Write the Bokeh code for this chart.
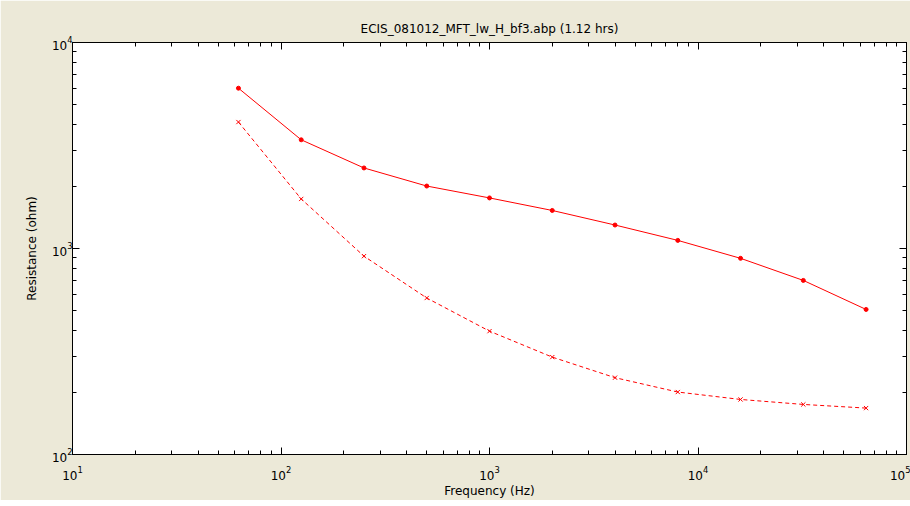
from bokeh.plotting import figure
from bokeh.models import LogAxis, FixedTicker, Range1d, CustomJSTickFormatter
from bokeh.embed import file_html
from bokeh.resources import INLINE

# ---- data ----
freq = [62.5, 125, 250, 500, 1000, 2000, 4000, 8000, 16000, 32000, 64000]
res_solid = [6000, 3370, 2460, 2010, 1760, 1530, 1300, 1095, 896, 700, 506]
res_dashed = [4110, 1740, 918, 575, 397, 297, 236, 201, 185, 175, 168]

title_text = "ECIS_081012_MFT_lw_H_bf3.abp (1.12 hrs)"
x_label = "Frequency (Hz)"
y_label = "Resistance (ohm)"

x_major = [10, 100, 1000, 10000, 100000]
y_major = [100, 1000, 10000]


def minors(major):
    return [m * d for d in major[:-1] for m in range(2, 10)]


FONT = "DejaVu Sans"
BG = "#ECE9D8"

p = figure(width=910, height=500, x_axis_type="log", y_axis_type="log",
           x_range=Range1d(x_major[0], x_major[-1]),
           y_range=Range1d(y_major[0], y_major[-1]),
           output_backend="svg", toolbar_location=None, title=title_text,
           min_border_left=72, min_border_right=4, min_border_top=42,
           min_border_bottom=44)
p.background_fill_color = "white"
p.border_fill_color = BG
p.outline_line_color = "black"
p.grid.visible = False

p.title.text_font = FONT
p.title.text_font_size = "12px"
p.title.text_font_style = "normal"
p.title.text_color = "black"
p.title.align = "center"
p.title.standoff = 14


def style_axis(ax, major, show_labels):
    ax.ticker = FixedTicker(ticks=major, minor_ticks=minors(major))
    ax.major_tick_in = 7
    ax.major_tick_out = 0
    ax.minor_tick_in = 4
    ax.minor_tick_out = 0
    ax.axis_line_color = "black"
    ax.major_tick_line_color = "black"
    ax.minor_tick_line_color = "black"
    ax.major_label_text_font = FONT
    ax.major_label_text_color = "black"
    if show_labels:
        ax.major_label_text_font_size = "12px"
    else:
        ax.major_label_text_font_size = "0px"
        ax.major_label_standoff = 0
        ax.formatter = CustomJSTickFormatter(code="return ''")


xb = p.below[0]
yl = p.left[0]
style_axis(xb, x_major, True)
style_axis(yl, y_major, True)
xb.major_label_standoff = 11
yl.major_label_standoff = 0
xb.axis_label = x_label
yl.axis_label = y_label
for ax in (xb, yl):
    ax.axis_label_text_font = FONT
    ax.axis_label_text_font_size = "12px"
    ax.axis_label_text_font_style = "normal"
    ax.axis_label_text_color = "black"
xb.axis_label_standoff = 1
yl.axis_label_standoff = 10

xt = LogAxis()
style_axis(xt, x_major, False)
p.add_layout(xt, "above")
yr = LogAxis()
style_axis(yr, y_major, False)
p.add_layout(yr, "right")

p.line(freq, res_solid, line_color="red", line_width=1)
p.scatter(freq, res_solid, marker="circle", size=4, color="red")
p.line(freq, res_dashed, line_color="red", line_width=1, line_dash="4 3")
p.scatter(freq, res_dashed, marker="x", size=6, line_color="red", line_width=1)

open("out.html", "w").write(file_html(p, INLINE))
